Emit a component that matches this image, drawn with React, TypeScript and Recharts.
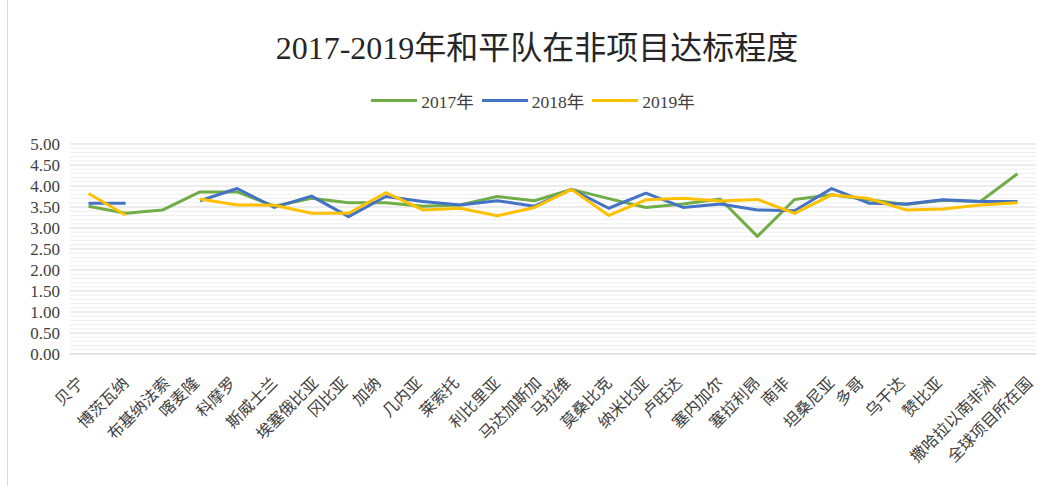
import { CartesianGrid, Line, LineChart, XAxis, YAxis } from "recharts";

const countries = [
	"贝宁",
	"博茨瓦纳",
	"布基纳法索",
	"喀麦隆",
	"科摩罗",
	"斯威士兰",
	"埃塞俄比亚",
	"冈比亚",
	"加纳",
	"几内亚",
	"莱索托",
	"利比里亚",
	"马达加斯加",
	"马拉维",
	"莫桑比克",
	"纳米比亚",
	"卢旺达",
	"塞内加尔",
	"塞拉利昂",
	"南非",
	"坦桑尼亚",
	"多哥",
	"乌干达",
	"赞比亚",
	"撒哈拉以南非洲",
	"全球项目所在国",
];

const y2017 = [
	3.52, 3.35, 3.43, 3.86, 3.86, 3.52, 3.71, 3.6, 3.6, 3.52, 3.55, 3.75, 3.65,
	3.92, 3.7, 3.49, 3.57, 3.69, 2.8, 3.68, 3.79, 3.67, 3.56, 3.66, 3.63, 4.29,
];
const y2018 = [
	3.59, 3.59, null, 3.65, 3.94, 3.49, 3.76, 3.27, 3.75, 3.63, 3.55, 3.65, 3.52,
	3.92, 3.47, 3.83, 3.49, 3.57, 3.43, 3.41, 3.94, 3.59, 3.57, 3.67, 3.63, 3.63,
];
const y2019 = [
	3.82, 3.31, null, 3.69, 3.55, 3.54, 3.35, 3.35, 3.84, 3.43, 3.47, 3.29, 3.49,
	3.92, 3.3, 3.67, 3.71, 3.64, 3.68, 3.35, 3.79, 3.7, 3.43, 3.45, 3.55, 3.6,
];

const yTicks = [0, 0.5, 1, 1.5, 2, 2.5, 3, 3.5, 4, 4.5, 5];

const series = [
	{ key: "y2017", name: "2017年", color: "#70AD47" },
	{ key: "y2018", name: "2018年", color: "#4472C4" },
	{ key: "y2019", name: "2019年", color: "#FFC000" },
];

const data = countries.map((name, i) => ({
	name,
	y2017: y2017[i],
	y2018: y2018[i],
	y2019: y2019[i],
}));

// light lines every 0.1 between the major ones
const minorValues: number[] = [];
for (let i = 1; i < 50; i++) {
	if (i % 5 !== 0) minorValues.push(i / 10);
}

const FONT = "'Liberation Serif', 'Noto Sans CJK SC', serif";

const XTick = ({ x, y, payload }: any) => {
	const label = String(payload.value);
	const ex = x - 4 + 4 * (label.length - 2);
	const ey = y + 22;
	return (
		<text
			x={ex}
			y={ey}
			transform={`rotate(-45, ${ex}, ${ey})`}
			textAnchor="end"
			fontSize={16}
			fontFamily={FONT}
			fill="#404040"
		>
			{label}
		</text>
	);
};

const App = () => {
	return (
		<div
			style={{
				position: "absolute",
				left: 0,
				top: 0,
				width: 1048,
				height: 486,
				background: "#fff",
				fontFamily: FONT,
			}}
		>
			<div
				style={{
					position: "absolute",
					left: 7,
					top: 0,
					width: 1,
					height: 486,
					background: "#d9d9d9",
				}}
			/>
			<div
				style={{
					position: "absolute",
					left: 0,
					width: 1074,
					top: 22,
					textAlign: "center",
					fontSize: 32,
					color: "#262626",
				}}
			>
				2017-2019年和平队在非项目达标程度
			</div>
			<div
				style={{
					position: "absolute",
					left: 0,
					width: 1074,
					top: 88,
					display: "flex",
					justifyContent: "center",
					alignItems: "center",
					fontSize: 17.5,
					color: "#404040",
				}}
			>
				{series.map((s) => (
					<div
						key={s.key}
						style={{ display: "flex", alignItems: "center", marginRight: 8 }}
					>
						<div
							style={{
								width: 46,
								height: 3,
								background: s.color,
								marginRight: 4,
							}}
						/>
						<span>{s.name}</span>
					</div>
				))}
			</div>
			<div style={{ position: "absolute", left: 0, top: 0 }}>
				<LineChart
					width={1048}
					height={486}
					data={data}
					margin={{ top: 144, right: 12, left: 8, bottom: 12 }}
				>
					<CartesianGrid
						vertical={false}
						stroke="#eeeeee"
						horizontalCoordinatesGenerator={({ yAxis, offset }: any) =>
							minorValues.map((v) => {
								const s = yAxis?.scale;
								if (typeof s === "function") return s(v);
								if (s && typeof s.map === "function") return s.map(v);
								return offset.top + offset.height * (1 - v / 5);
							})
						}
					/>
					<CartesianGrid vertical={false} stroke="#d9d9d9" />
					<XAxis
						dataKey="name"
						interval={0}
						height={120}
						padding={{ left: 18.5, right: 18.5 }}
						axisLine={{ stroke: "#d9d9d9" }}
						tickLine={false}
						tick={<XTick />}
					/>
					<YAxis
						width={62}
						domain={[0, 5]}
						ticks={yTicks}
						interval={0}
						tickFormatter={(v: number) => v.toFixed(2)}
						axisLine={false}
						tickLine={false}
						tickSize={0}
						tickMargin={10}
						tick={{ fontSize: 17, fill: "#404040", fontFamily: FONT }}
					/>
					{series.map((s) => (
						<Line
							key={s.key}
							dataKey={s.key}
							name={s.name}
							stroke={s.color}
							strokeWidth={3}
							dot={false}
							activeDot={false}
							strokeLinejoin="round"
							isAnimationActive={false}
						/>
					))}
				</LineChart>
			</div>
		</div>
	);
};

export default App;
